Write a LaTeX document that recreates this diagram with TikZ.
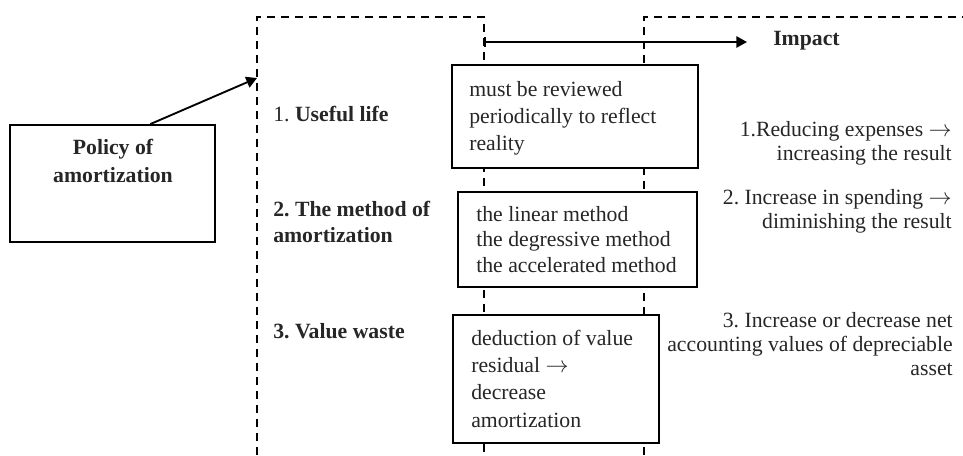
\documentclass[tikz,border=0pt]{standalone}
\usepackage{fontspec}
\setmainfont{Liberation Serif}
\usetikzlibrary{arrows.meta,fit,calc}
\definecolor{ink}{HTML}{262626}
\frenchspacing
\begin{document}
\begin{tikzpicture}[x=0.75pt,y=-0.75pt,
  txt/.style={inner sep=0pt, text=ink, font=\fontsize{16.3}{19.6}\selectfont},
  btxt/.style={txt, font=\fontsize{16.3}{19.6}\selectfont\bfseries},
  box/.style={draw=black, fill=white, line width=1.4pt, inner sep=0pt},
  frame/.style={line width=1.4pt, dash pattern=on 6pt off 4.5pt},
  arr/.style={line width=1.4pt, -{Triangle[length=8pt,width=8.5pt]}},
]
\useasboundingbox (0,0) rectangle (963,455);

% dashed frames
\coordinate (entry) at (257,78);
\draw[frame] (257,455) -- (257,17) -- (484,17) -- (484,455);
\draw[frame] (644,455) -- (644,17) -- (963,17);

% impact arrow
\coordinate (istart) at (484,42);
\node[btxt, anchor=base west] (impact) at (773,45) {Impact};
\draw[line width=1.4pt, {Bar[width=7pt,line width=1.4pt]}-{Triangle[length=8pt,width=8.5pt]}]
  (istart) -- ($(impact.west |- istart) + (-26,0)$);

% policy box and arrow to the frame
% (multi-line nodes: the base anchor sits on the last line)
\node[box, fit={(10,125) (215,242)}] (policy) {};
\node[btxt, align=center, anchor=base, font=\fontsize{16.3}{21}\selectfont\bfseries] (ptext) at (113,182) {Policy of\\amortization};
\draw[arr] ($(policy.north west)!0.683!(policy.north east)$) -- (entry);

% factors
\node[txt, anchor=base west] (f1) at (273,121) {1. \textbf{Useful life}};
\node[btxt, align=left, anchor=base west, font=\fontsize{16.3}{18.8}\selectfont\bfseries] (f2) at (273,242) {2. The method of\\amortization};
\node[btxt, anchor=base west] (f3) at (273,338) {3. Value waste};

% description boxes
\node[box, fit={(452,65) (698,168)}] (d1) {};
\node[box, fit={(458,192) (697,287)}] (d2) {};
\node[box, fit={(453,315) (659,443)}] (d3) {};
\node[txt, align=left, anchor=base west, font=\fontsize{16.3}{19.9}\selectfont] (d1t) at (469,150) {must be reviewed\\periodically to reflect\\reality};
\node[txt, align=left, anchor=base west, font=\fontsize{16.3}{18.8}\selectfont] (d2t) at (476,272) {the linear method\\the degressive method\\the accelerated method};
\node[txt, align=left, anchor=base west, font=\fontsize{16.3}{20.5}\selectfont] (d3t) at (471,427) {deduction of value\\residual $\rightarrow$\\decrease\\amortization};

% impacts
\node[txt, align=right, anchor=base east, font=\fontsize{16.3}{18}\selectfont] (i1) at (952,160) {1.Reducing expenses $\rightarrow$\\increasing the result};
\node[txt, align=right, anchor=base east, font=\fontsize{16.3}{18}\selectfont] (i2) at (952,228) {2. Increase in spending $\rightarrow$\\diminishing the result};
\node[txt, align=right, anchor=base east, font=\fontsize{16.3}{18}\selectfont] (i3) at (953,375) {3. Increase or decrease net\\accounting values of depreciable\\asset};
\end{tikzpicture}
\end{document}
